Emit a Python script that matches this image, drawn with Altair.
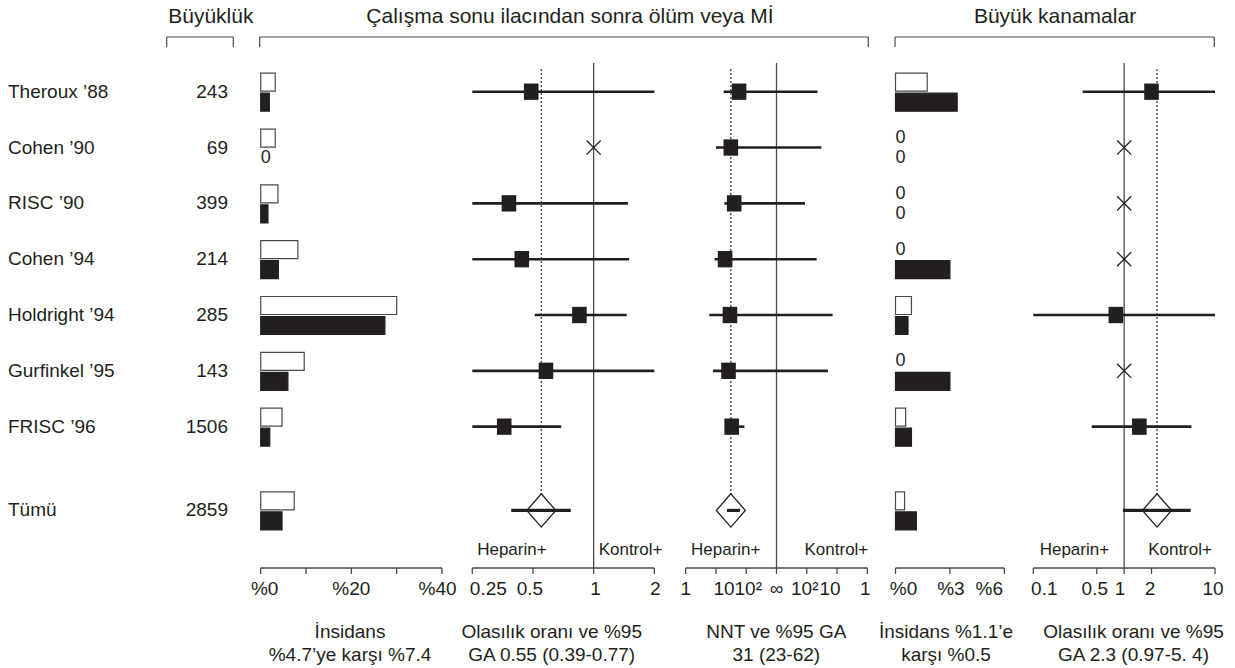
import altair as alt
import pandas as pd

# ---------------- data ----------------
studies = ["Theroux ’88", "Cohen ’90", "RISC ’90", "Cohen ’94", "Holdright ’94",
           "Gurfinkel ’95", "FRISC ’96", "Tümü"]
sizes = [243, 69, 399, 214, 285, 143, 1506, 2859]
rows = [0, 1, 2, 3, 4, 5, 6, 7.5]

# death or MI incidence (%): open = control, black = heparin
inc_control = [3.2, 3.2, 3.8, 8.2, 30.0, 9.6, 4.7, 7.4]
inc_heparin = [1.9, 0.0, 1.6, 3.9, 27.4, 6.0, 2.0, 4.7]

# odds ratio death or MI
or_est = [0.49, None, 0.38, 0.44, 0.85, 0.58, 0.36, 0.55]
or_lo = [0.25, None, 0.25, 0.25, 0.51, 0.25, 0.25, 0.39]
or_hi = [2.0, None, 1.48, 1.5, 1.46, 2.0, 0.69, 0.77]

# NNT (negative = heparin benefit, positive = control benefit)
nnt_est = [-58, -31, -40, -20, -29, -26, -33, -31]
nnt_lo = [-18, -10, -19, -9, -6, -8, -25, -23]
nnt_hi = [44, 33, 115, 47, 14, 20, -87, -62]

# major bleeding incidence (%)
bl_control = [1.75, 0, 0, 0, 0.88, 0, 0.56, 0.5]
bl_heparin = [3.4, 0, 0, 3.0, 0.69, 3.0, 0.88, 1.15]

# odds ratio major bleeding
bor_est = [2.0, None, None, None, 0.81, None, 1.47, 2.3]
bor_lo = [0.35, None, None, None, 0.1, None, 0.44, 0.97]
bor_hi = [10, None, None, None, 10, None, 5.5, 5.4]

# axis ticks
t1_vals, t1_labels = [0, 10, 20, 30, 40], ["%0", "", "%20", "", "%40"]
t2_vals, t2_labels = [0.25, 0.5, 1, 2], ["0.25", "0.5", "1", "2"]
t3_vals, t3_labels = [-3, -2, -1, 0, 1, 2, 3], ["1", "10", "10²", "∞", "10²", "10", "1"]
t4_vals, t4_labels = [0, 3, 6], ["%0", "%3", "%6"]
t5_vals, t5_labels = [0.1, 0.5, 1, 2, 10], ["0.1", "0.5", "1", "2", "10"]

headers = ["Büyüklük", "Çalışma sonu ilacından sonra ölüm veya Mİ", "Büyük kanamalar"]
bottom_titles = [
    ("İnsidans", "%4.7’ye karşı %7.4"),
    ("Olasılık oranı ve %95", "GA 0.55 (0.39-0.77)"),
    ("NNT ve %95 GA", "31 (23-62)"),
    ("İnsidans %1.1’e", "karşı %0.5"),
    ("Olasılık oranı ve %95", "GA 2.3 (0.97-5. 4)"),
]

# ---------------- style / layout ----------------
INK = "#231f20"
GRAY = "#4a4a4a"
FONT = "Liberation Sans"
SQUARE = "M-1,-1.12L1,-1.12L1,1.12L-1,1.12Z"
XPATH = "M-1,-1L1,1M-1,1L1,-1"
DIAMOND = "M-1,0L0,-1.15L1,0L0,1.15Z"

# tick-label nudges (pixels) per panel, as in the original typesetting
NUDGE1 = [4, 0, 0, 0, -4.5]
NUDGE2 = [16, -3, 2, 1]
NUDGE3 = [0, 8, 2, 0, -2, -7, -2]
NUDGE4 = [8, 1, -15]
NUDGE5 = [11, -2, -4, -1.5, -2]

YS = alt.Scale(domain=[0, 7.5], range=[91.7, 510.4], nice=False, zero=False, padding=0)
S1 = alt.Scale(domain=[0, 40], range=[260.7, 442], nice=False, zero=False, padding=0)
S2 = alt.Scale(type="log", domain=[0.25, 2], range=[472.3, 654.3], nice=False, padding=0)
S3 = alt.Scale(domain=[-3, 3], range=[685.7, 867.3], nice=False, zero=False, padding=0)
S4 = alt.Scale(domain=[0, 6], range=[895.5, 1004.3], nice=False, zero=False, padding=0)
S5 = alt.Scale(type="log", domain=[0.1, 10], range=[1033.3, 1215], nice=False, padding=0)

Y = alt.Y("row:Q", scale=YS, axis=None)


def X(field, scale):
    return alt.X(field, type="quantitative", scale=scale, axis=None)


def axis_layers(vals, labels, scale, nudges):
    tdf = pd.DataFrame({"t": vals, "lab": labels})
    layers = [
        alt.Chart(tdf).transform_aggregate(a="min(t)", b="max(t)")
        .mark_rule(color=GRAY, strokeWidth=1.3)
        .encode(x=X("a", scale), x2="b:Q", y=alt.value(568)),
        alt.Chart(tdf).mark_rule(color=GRAY, strokeWidth=1.3)
        .encode(x=X("t", scale), y=alt.value(568), y2=alt.value(574)),
    ]
    for i, d in enumerate(nudges):
        if not labels[i]:
            continue
        layers.append(
            alt.Chart(tdf).transform_filter(f"datum.lab == '{labels[i]}' && datum.t == {vals[i]}")
            .mark_text(fontSize=19, baseline="middle", color=INK, dx=d)
            .encode(x=X("t", scale), y=alt.value(589), text="lab:N")
        )
    return layers


def incidence_panel(open_vals, black_vals, scale, ticks, labels, nudges):
    df = pd.DataFrame({"row": rows, "open": open_vals, "black": black_vals})
    base = alt.Chart(df).transform_calculate(zero="0")
    layers = []
    for field, off, filled in [("open", -9.5, False), ("black", 10.5, True)]:
        bar = (base.transform_filter(f"datum.{field} > 0")
               .mark_bar(orient="horizontal", size=18, yOffset=off,
                         fill=INK if filled else "white",
                         stroke=INK if filled else GRAY, strokeWidth=1.2)
               .encode(x=X("zero", scale), x2=f"{field}:Q", y=Y))
        zero = (base.transform_filter(f"datum.{field} == 0")
                .mark_text(align="left", baseline="middle", yOffset=off, fontSize=18, color=INK)
                .encode(x=X("zero", scale), y=Y, text=alt.value("0")))
        layers += [bar, zero]
    layers += axis_layers(ticks, labels, scale, nudges)
    return alt.layer(*layers)


def forest_panel(est, lo, hi, null_pos, scale, calc, ticks, labels, nudges, hep_dx, kon_dx):
    kinds = ["dm" if i == len(est) - 1 else ("x" if e is None else "sq") for i, e in enumerate(est)]
    df = pd.DataFrame({
        "row": rows,
        "kind": kinds,
        "est": [null_pos if e is None else e for e in est],
        "lo": lo,
        "hi": hi,
    })
    base = alt.Chart(df).transform_calculate(**calc)
    null_df = pd.DataFrame({"e": [null_pos]})
    layers = [
        alt.Chart(null_df).mark_rule(color=GRAY, strokeWidth=1.3)
        .encode(x=X("e", scale), y=alt.value(63), y2=alt.value(568)),
        base.transform_filter("datum.kind == 'dm'")
        .mark_rule(color=GRAY, strokeWidth=1.4, strokeDash=[2, 2])
        .encode(x=X("e", scale), y=alt.value(69), y2=alt.value(494)),
        base.transform_filter("datum.kind == 'sq'")
        .mark_rule(color=INK, strokeWidth=2.6)
        .encode(x=X("l", scale), x2="h:Q", y=Y),
        base.transform_filter("datum.kind == 'dm'")
        .mark_rule(color=INK, strokeWidth=3.2)
        .encode(x=X("l", scale), x2="h:Q", y=Y),
        base.transform_filter("datum.kind == 'sq'")
        .mark_point(shape=SQUARE, filled=True, size=213, color=INK, opacity=1)
        .encode(x=X("e", scale), y=Y),
        base.transform_filter("datum.kind == 'x'")
        .mark_point(shape=XPATH, filled=False, size=200, color=INK, strokeWidth=1.3, opacity=1)
        .encode(x=X("e", scale), y=Y),
        base.transform_filter("datum.kind == 'dm'")
        .mark_point(shape=DIAMOND, filled=False, size=841, color=INK, strokeWidth=1.3, opacity=1)
        .encode(x=X("e", scale), y=Y),
        alt.Chart(null_df).mark_text(text="Heparin+", align="right", baseline="middle",
                                     dx=hep_dx, fontSize=17, color=INK)
        .encode(x=X("e", scale), y=alt.value(550)),
        alt.Chart(null_df).mark_text(text="Kontrol+", align="left", baseline="middle",
                                     dx=kon_dx, fontSize=17, color=INK)
        .encode(x=X("e", scale), y=alt.value(550)),
    ]
    layers += axis_layers(ticks, labels, scale, nudges)
    return alt.layer(*layers)


identity = {"e": "datum.est", "l": "datum.lo", "h": "datum.hi"}


def nnt_expr(f):
    return f"datum.{f} < 0 ? log(-datum.{f})/LN10 - 3 : 3 - log(datum.{f})/LN10"


nnt_calc = {"e": nnt_expr("est"), "l": nnt_expr("lo"), "h": nnt_expr("hi")}

p1 = incidence_panel(inc_control, inc_heparin, S1, t1_vals, t1_labels, NUDGE1)
p2 = forest_panel(or_est, or_lo, or_hi, 1.0, S2, identity, t2_vals, t2_labels, NUDGE2, -47, 5)
p3 = forest_panel(nnt_est, nnt_lo, nnt_hi, 0.0, S3, nnt_calc, t3_vals, t3_labels, NUDGE3, -16, 28)
p4 = incidence_panel(bl_control, bl_heparin, S4, t4_vals, t4_labels, NUDGE4)
p5 = forest_panel(bor_est, bor_lo, bor_hi, 1.0, S5, identity, t5_vals, t5_labels, NUDGE5, -15, 24)

# ---------------- free text / brackets ----------------
one = alt.Data(values=[{}])


def free_text(txt, x, y, size, align="center"):
    return alt.Chart(one).mark_text(text=txt, fontSize=size, align=align, baseline="middle",
                                    color=INK).encode(x=alt.value(x), y=alt.value(y))


label_df = pd.DataFrame({"row": rows, "study": studies, "n": sizes})
text_layers = [
    alt.Chart(label_df).mark_text(align="left", baseline="middle", fontSize=19, color=INK)
    .encode(x=alt.value(8), y=Y, text="study:N"),
    alt.Chart(label_df).mark_text(align="right", baseline="middle", fontSize=19, color=INK)
    .encode(x=alt.value(228), y=Y, text="n:N"),
]
for txt, cx in zip(headers, [210.8, 570, 1055]):
    text_layers.append(free_text(txt, cx, 17, 21))
for (x1, x2) in [(166.7, 233.3), (259.7, 868.3), (895, 1214.3)]:
    text_layers.append(alt.Chart(one).mark_rule(color=GRAY, strokeWidth=1.2)
                       .encode(x=alt.value(x1), x2=alt.value(x2), y=alt.value(37)))
    for xx in (x1, x2):
        text_layers.append(alt.Chart(one).mark_rule(color=GRAY, strokeWidth=1.2)
                           .encode(x=alt.value(xx), y=alt.value(37), y2=alt.value(47)))
for (l1, l2), cx in zip(bottom_titles, [350, 551.7, 776.3, 946, 1133.5]):
    text_layers.append(free_text(l1, cx, 631.7, 19))
    text_layers.append(free_text(l2, cx, 655, 19))

texts = alt.layer(*text_layers)

chart = (
    alt.layer(texts, p1, p2, p3, p4, p5)
    .resolve_scale(x="independent")
    .properties(width=1235, height=668, padding=0,
                autosize=alt.AutoSizeParams(type="none"), background="white")
    .configure_view(stroke=None)
    .configure_text(font=FONT)
)

chart.save("out.html", embed_options={"renderer": "svg", "actions": False})
